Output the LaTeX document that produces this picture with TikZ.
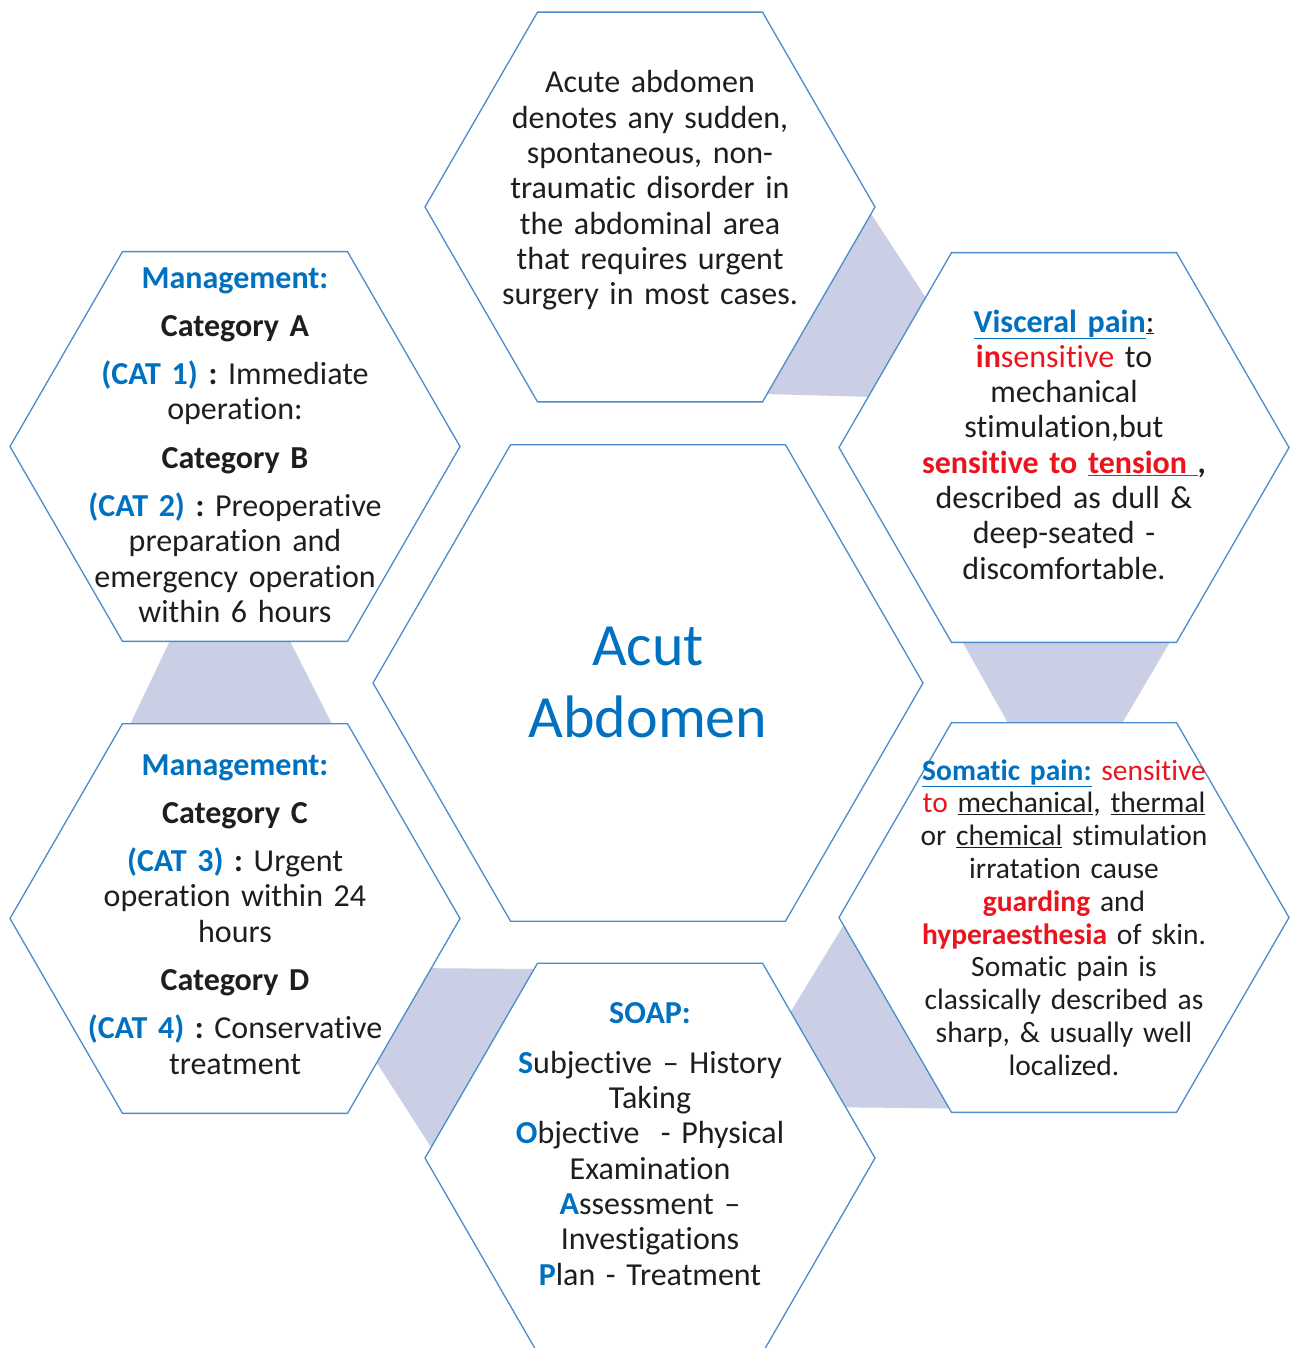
\documentclass[tikz,border=0pt]{standalone}
\usepackage{fontspec}
\setmainfont{Carlito}[Ligatures={TeX,NoCommon}, WordSpace=0.9]
\usepackage{xcolor}
\usetikzlibrary{shapes.geometric,calc,backgrounds}
\frenchspacing

\definecolor{hexline}{RGB}{75,140,205}
\definecolor{bandfill}{RGB}{202,207,230}
\definecolor{txtblue}{RGB}{0,112,192}
\definecolor{txtred}{RGB}{235,20,30}
\definecolor{txtdark}{RGB}{30,30,30}

\newcommand{\bluetxt}[1]{\textcolor{txtblue}{#1}}
\newcommand{\redtxt}[1]{\textcolor{txtred}{#1}}

\begin{document}
\begin{tikzpicture}[
    x=1pt, y=-1pt,
    hexa/.style={regular polygon, regular polygon sides=6, draw=hexline, line width=1.3pt, fill=white, inner sep=0pt, outer sep=0pt, minimum size=450pt},
    band/.style={fill=bandfill, draw=none},
    txt/.style={anchor=base, text width=420pt, align=center, text=txtdark, font=\fontsize{32}{35.3}\selectfont\frenchspacing},
    smalltxt/.style={font=\fontsize{29.5}{32.8}\selectfont\frenchspacing},
]
    \useasboundingbox (0,0) rectangle (1295,1348);

    % HEXAGONS
    \node[hexa] (top) at (650,207) {};
    \node[hexa] (ltop) at (235,446.5) {};
    \node[hexa] (lbot) at (235,918.5) {};
    \node[hexa] (rtop) at (1064,447.5) {};
    \node[hexa] (rbot) at (1064,917.5) {};
    \node[hexa] (bot) at (650,1158) {};
    \node[hexa, minimum size=550pt] (mid) at (648,683) {};

    % BANDS (behind)
    \begin{scope}[on background layer]
        \fill[white] (0,0) rectangle (1295,1348);
        \fill[band] ($(top.0)!0.035!(top.300)$) -- ($(rtop.120)!0.23!(rtop.180)$) -- ($(rtop.120)!0.74!(rtop.180)$) -- ($(top.0)!0.96!(top.300)$) -- cycle;
        \fill[band] ($(rtop.240)!0.05!(rtop.300)$) -- ($(rtop.240)!0.97!(rtop.300)$) -- ($(rbot.120)!0.76!(rbot.60)$) -- ($(rbot.120)!0.25!(rbot.60)$) -- cycle;
        \fill[band] ($(rbot.180)!0.04!(rbot.240)$) -- ($(rbot.180)!0.98!(rbot.240)$) -- ($(bot.60)!0.74!(bot.0)$) -- ($(bot.60)!0.25!(bot.0)$) -- cycle;
        \fill[band] ($(lbot.0)!0.255!(lbot.300)$) -- ($(bot.120)!0.03!(bot.180)$) -- ($(bot.120)!0.945!(bot.180)$) -- ($(lbot.0)!0.74!(lbot.300)$) -- cycle;
        \fill[band] ($(ltop.240)!0.21!(ltop.300)$) -- ($(ltop.240)!0.745!(ltop.300)$) -- ($(lbot.120)!0.93!(lbot.60)$) -- ($(lbot.120)!0.035!(lbot.60)$) -- cycle;
    \end{scope}

    % TEXTS
    \node[txt] (topText) at (650,93) {Acute abdomen\\ denotes any sudden,\\ spontaneous, non-\\ traumatic disorder in\\ the abdominal area\\ that requires urgent\\ surgery in most cases.};
    \node[txt, text=txtblue, font=\fontsize{60}{72}\selectfont] (midText) at (648,665) {Acut\\ Abdomen};
    \node[txt] (ltopText) at (235,288) {\textbf{\bluetxt{Management:}}\\[13pt]
        \textbf{Category A}\\[13pt]
        \textbf{\bluetxt{(CAT 1)} :} Immediate\\ operation:\\[13pt]
        \textbf{Category B}\\[13pt]
        \textbf{\bluetxt{(CAT 2)} :} Preoperative\\ preparation and\\ emergency operation\\ within 6 hours};
    \node[txt] (lbotText) at (235,775) {\textbf{\bluetxt{Management:}}\\[13pt]
        \textbf{Category C}\\[13pt]
        \textbf{\bluetxt{(CAT 3)} :} Urgent\\ operation within 24\\ hours\\[13pt]
        \textbf{Category D}\\[13pt]
        \textbf{\bluetxt{(CAT 4)} :} Conservative\\ treatment};
    \node[txt] (rtopText) at (1064,332) {\bluetxt{\underline{\textbf{Visceral pain}}}\underline{:}\\
        \redtxt{\textbf{in}sensitive} to\\ mechanical\\ stimulation,but\\
        \textbf{\redtxt{sensitive to \underline{tension\ }},}\\
        described as dull \&\\ deep-seated -\\ discomfortable.};
    \node[txt, smalltxt] (rbotText) at (1064,780) {\bluetxt{\underline{\textbf{Somatic pain:}}} \redtxt{sensitive}\\
        \redtxt{to} \underline{mechanical}, \underline{thermal}\\
        or \underline{chemical} stimulation\\ irratation cause\\
        \textbf{\redtxt{guarding}} and\\ \textbf{\redtxt{hyperaesthesia}} of skin.\\
        Somatic pain is\\ classically described as\\ sharp, \& usually well\\ localized.};
    \node[txt] (botText) at (650,1023) {\textbf{\bluetxt{SOAP:}}\\[15pt]
        \textbf{\bluetxt{S}}ubjective – History\\ Taking\\
        \textbf{\bluetxt{O}}bjective\ \ - Physical\\ Examination\\
        \textbf{\bluetxt{A}}ssessment –\\ Investigations\\
        \textbf{\bluetxt{P}}lan - Treatment};
\end{tikzpicture}
\end{document}
